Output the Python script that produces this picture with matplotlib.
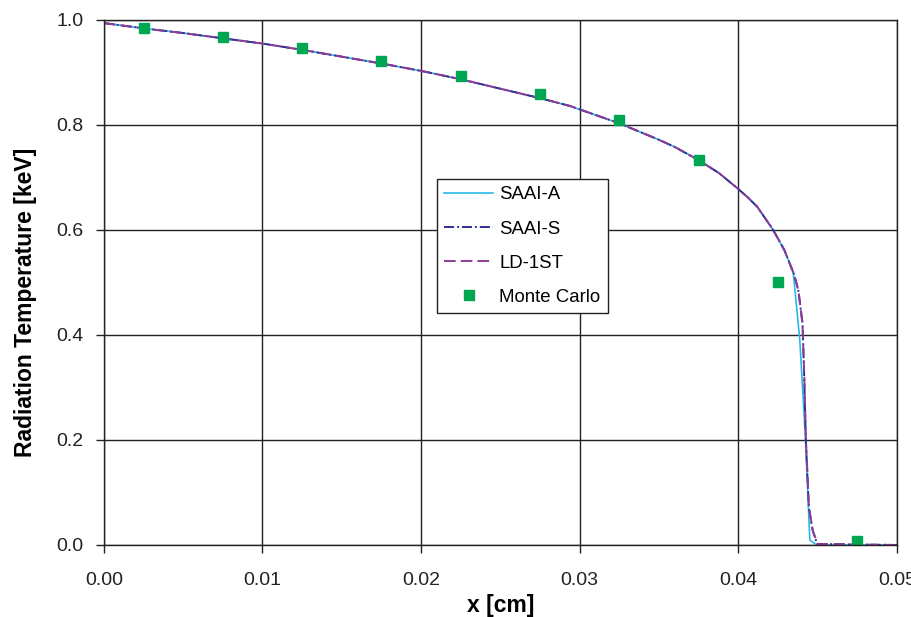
import matplotlib
import numpy as np
from matplotlib import pyplot as plt

matplotlib.use("Agg")

plt.rcParams["font.family"] = ["Liberation Sans", "DejaVu Sans"]

# smooth part of the profile, shared by all three deterministic solutions
x_common = [0.0, 0.0025, 0.005, 0.0075, 0.01, 0.0125, 0.015, 0.0175, 0.02, 0.0225,
            0.025, 0.0275, 0.0294, 0.0325, 0.0349, 0.036, 0.0375, 0.0388, 0.04,
            0.0406, 0.0412, 0.0422, 0.0429]
t_common = [0.994, 0.984, 0.975, 0.965, 0.955, 0.943, 0.930, 0.917, 0.903, 0.887,
            0.869, 0.851, 0.836, 0.803, 0.773, 0.758, 0.733, 0.708, 0.678,
            0.662, 0.644, 0.600, 0.562]

# wave front region
x_front_a = [0.04346, 0.04388, 0.04424, 0.04451, 0.04494, 0.0500]
t_front_a = [0.521, 0.390, 0.200, 0.0095, 0.0, 0.0]

x_front_s = [0.04352, 0.04378, 0.04405, 0.04415, 0.04426, 0.04445, 0.04468, 0.04497, 0.0500]
t_front_s = [0.515, 0.486, 0.423, 0.328, 0.200, 0.072, 0.029, 0.002, 0.0]

x_front_ld = [0.04352, 0.04380, 0.04405, 0.04416, 0.04427, 0.04446, 0.04470, 0.04500, 0.0500]
t_front_ld = [0.515, 0.484, 0.420, 0.325, 0.198, 0.070, 0.027, 0.002, 0.0]

x_mc = [0.0025, 0.0075, 0.0125, 0.0175, 0.0225, 0.0275, 0.0325, 0.0375, 0.0425, 0.0475]
t_mc = [0.984, 0.968, 0.947, 0.922, 0.893, 0.859, 0.810, 0.733, 0.501, 0.008]

fig = plt.figure(figsize=(9.11, 6.17), dpi=100)
ax = fig.add_axes([0.114, 0.1167, 0.8705, 0.851])

ax.plot(x_common + x_front_a, t_common + t_front_a, color="#29b8ea", lw=1.2,
        label="SAAI-A")
ax.plot(x_common + x_front_s, t_common + t_front_s, color="#2e3192", lw=1.4,
        dashes=(5.2, 1.5, 1, 1.5), label="SAAI-S")
ax.plot(x_common + x_front_ld, t_common + t_front_ld, color="#8e3a97", lw=1.4,
        dashes=(6, 2.6), label="LD-1ST")
ax.plot(x_mc, t_mc, ls="none", marker="s", ms=6.5, color="#00a651",
        label="Monte Carlo")

ax.set_xlim(0, 0.05)
ax.set_ylim(0, 1.0)
ax.set_xticks(np.arange(0, 0.0501, 0.01))
ax.set_yticks(np.arange(0, 1.01, 0.2))
ax.xaxis.set_major_formatter(matplotlib.ticker.FormatStrFormatter("%.2f"))
ax.yaxis.set_major_formatter(matplotlib.ticker.FormatStrFormatter("%.1f"))
ax.tick_params(direction="out", length=5.8, width=1, labelsize=14, colors="#222222")
ax.tick_params(axis="x", pad=13.5)
ax.tick_params(axis="y", pad=9)
ax.grid(True, color="#222222", lw=1)
ax.set_axisbelow(True)
for s in ax.spines.values():
    s.set_color("#222222")
    s.set_linewidth(1)

ax.set_xlabel("x [cm]", fontsize=16.5, fontweight="bold", labelpad=3.5)
ax.set_ylabel("Radiation Temperature [keV]", fontsize=16.5, fontweight="bold",
              labelpad=14)
ax.yaxis.label.set_y(0.463)

leg = ax.legend(loc="upper left", bbox_to_anchor=(0.42, 0.697), borderaxespad=0,
                fontsize=13.4, frameon=True, fancybox=False, edgecolor="#222222",
                framealpha=1, handlelength=2.6, labelspacing=0.92,
                borderpad=0.4, handletextpad=0.35)
leg.get_frame().set_linewidth(1)

fig.savefig("out.png", dpi=100)
